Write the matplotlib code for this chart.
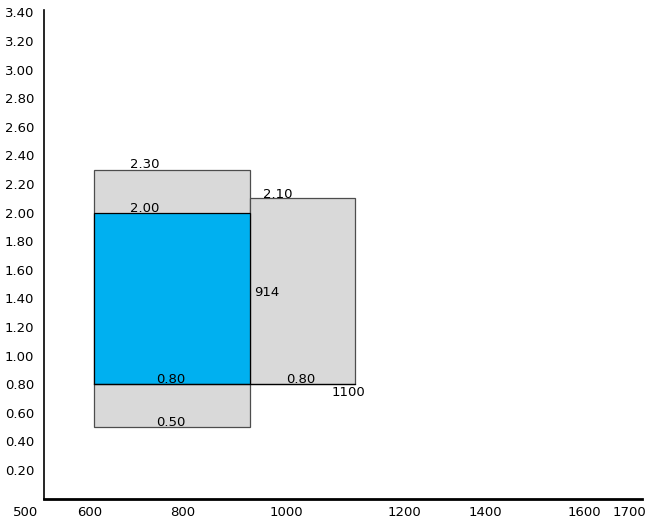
import matplotlib
matplotlib.use("Agg")
import matplotlib.pyplot as plt

# ---- data ----
x_edges = [600, 914, 1125]          # left, middle and right edges of the boxes
gray_low = [0.50, 0.80]             # grey box bottoms (left, right)
gray_high = [2.30, 2.10]            # grey box tops (left, right)
blue_low = 0.80
blue_high = 2.00
edge_labels = ["914", "1100"]

x_tick_labels = ["500", "600", "800", "1000", "1200", "1400", "1600", "1700"]
y_tick_values = [0.20, 0.40, 0.60, 0.80, 1.00, 1.20, 1.40, 1.60, 1.80, 2.00,
                 2.20, 2.40, 2.60, 2.80, 3.00, 3.20, 3.40]

# ---- layout ----
# positions where the reference draws its x tick labels (data units)
x_tick_pos = [464, 592, 779, 986, 1224, 1385, 1584, 1674]

W, H, DPI = 654, 523, 100
fig = plt.figure(figsize=(W / DPI, H / DPI), dpi=DPI)
px_per_unit = (642 - 44) / 1200.0
x_lo = 440
left_px = 44 - (500 - x_lo) * px_per_unit
ax = fig.add_axes([left_px / W, 1 - 498.6 / H, (642 - left_px) / W, (498.6 - 10) / H])
ax.set_xlim(x_lo, 1700)
ax.set_ylim(0, (498.6 - 10) / 143.0)

FONT = "DejaVu Sans"
FS = 9.5
gray = "#D9D9D9"
blue = "#00B0F0"
gedge = "#4D4D4D"

widths = [x_edges[1] - x_edges[0], x_edges[2] - x_edges[1]]
ax.bar(x_edges[:2], [h - l for h, l in zip(gray_high, gray_low)], width=widths,
       bottom=gray_low, align="edge", color=gray, edgecolor=gedge, linewidth=0.9, zorder=2)
ax.bar([x_edges[0]], [blue_high - blue_low], width=[widths[0]], bottom=[blue_low],
       align="edge", color=blue, edgecolor="black", linewidth=0.9, zorder=3)
ax.plot([x_edges[0], x_edges[2]], [blue_low, blue_low], color="black", lw=0.9, zorder=4)

# value labels
def lab(x, y, s, ha="center", va="baseline"):
    ax.text(x, y, s, ha=ha, va=va, fontsize=FS, family=FONT, color="black", zorder=5)

lab(703, gray_high[0] + 0.01, f"{gray_high[0]:.2f}")
lab(703, blue_high + 0.005, f"{blue_high:.2f}")
lab(755, blue_low + 0.005, f"{blue_low:.2f}")
lab(755, gray_low[0] + 0.005, f"{gray_low[0]:.2f}")
lab(970, gray_high[1] + 0.005, f"{gray_high[1]:.2f}")
lab(1016, gray_low[1] + 0.005, f"{gray_low[1]:.2f}")
lab(x_edges[1] + 7, 1.44, edge_labels[0], ha="left", va="center")
lab(1110, 0.74, edge_labels[1], ha="center", va="center")

# axes styling
for s in ["top", "right"]:
    ax.spines[s].set_visible(False)
ax.spines["left"].set_position(("data", 500))
ax.spines["left"].set_linewidth(1.2)
ax.spines["bottom"].set_bounds(500, 1700)
ax.spines["bottom"].set_linewidth(2.0)

ax.set_xticks(x_tick_pos)
ax.set_xticklabels(x_tick_labels, fontsize=FS, family=FONT)
ax.set_yticks(y_tick_values)
ax.set_yticklabels([f"{v:.2f}" for v in y_tick_values], fontsize=FS, family=FONT)
ax.tick_params(axis="both", length=0)
ax.tick_params(axis="x", pad=5)
ax.tick_params(axis="y", pad=7)

fig.savefig("out.png", dpi=DPI)
